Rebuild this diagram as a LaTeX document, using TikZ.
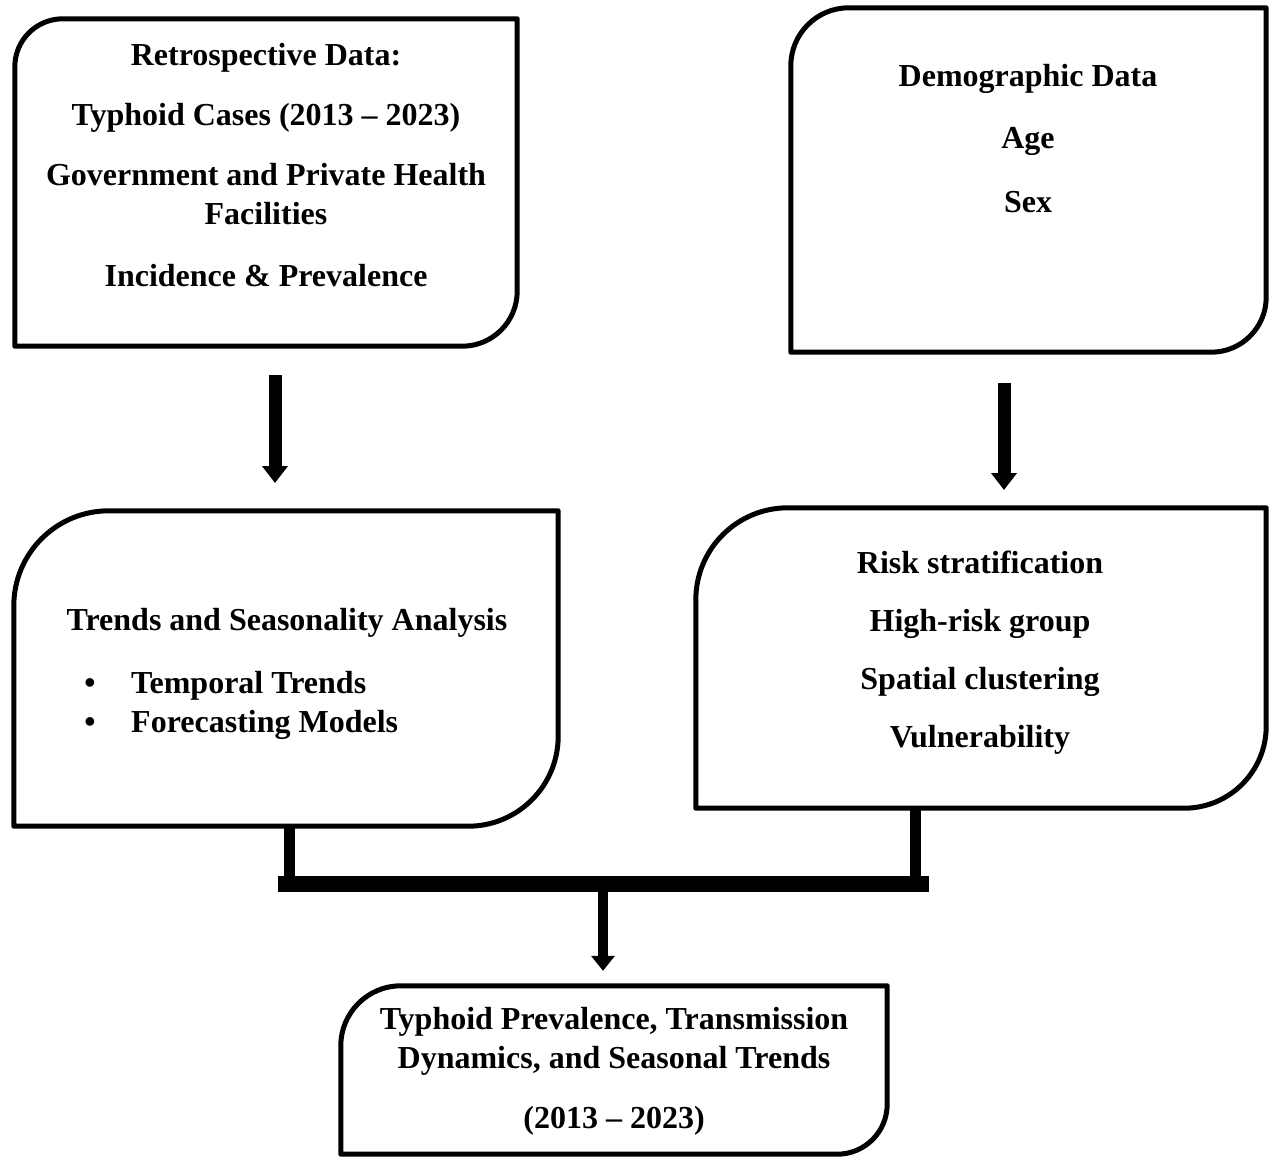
\documentclass[tikz,border=0pt]{standalone}
\usepackage{fontspec}
\setmainfont{Liberation Serif}
\usetikzlibrary{arrows.meta,calc}
\newcommand\shapebox[3]{%
  \draw[boxline] (#1.south west) -- ([yshift=-#2pt]#1.north west)
    arc[start angle=180,end angle=90,radius=#2] -- (#1.north east)
    -- ([yshift=#3pt]#1.south east)
    arc[start angle=0,end angle=-90,radius=#3] -- cycle;}
\begin{document}
\begin{tikzpicture}[x=1pt,y=1pt,
  boxline/.style={line width=5pt, line join=round},
  area/.style={draw=none, inner sep=0pt, rectangle},
  txt/.style={font=\fontsize{32}{38}\selectfont\bfseries, inner sep=0pt, anchor=base},
  bigarrow/.style={line width=13pt, -{Triangle[width=25pt,length=17pt]}},
  smallarrow/.style={line width=10pt, -{Triangle[width=23pt,length=15pt]}},
  conn/.style={line width=11pt},
  barline/.style={line width=16pt}]

\useasboundingbox (0,0) rectangle (1273,-1158);

% box areas
\node[area, minimum width=502pt, minimum height=327pt] (A) at (266,-182.5) {};
\node[area, minimum width=475pt, minimum height=344pt] (B) at (1028.5,-180) {};
\node[area, minimum width=544pt, minimum height=315pt] (C) at (286,-668.5) {};
\node[area, minimum width=570pt, minimum height=300pt] (D) at (981,-658) {};
\node[area, minimum width=546pt, minimum height=168pt] (E) at (614,-1070) {};

\shapebox{A}{48}{55}
\shapebox{B}{58}{55}
\shapebox{C}{95}{90}
\shapebox{D}{92}{82}
\shapebox{E}{60}{50}

% texts box A
\node[txt] (a1) at (266,-66) {Retrospective Data:};
\node[txt] (a2) at (266,-126) {Typhoid Cases (2013 – 2023)};
\node[txt] (a3) at (266,-186) {Government and Private Health};
\node[txt] (a4) at (266,-225) {Facilities};
\node[txt] (a5) at (266,-286) {Incidence \& Prevalence};

% texts box B
\node[txt] (b1) at (1028,-87) {Demographic Data};
\node[txt] (b2) at (1028,-149) {Age};
\node[txt] (b3) at (1028,-213) {Sex};

% texts box C
\node[txt] (c1) at (287,-630) {Trends and Seasonality Analysis};
\node[txt] (c2b) at (90,-693) {•};
\node[txt, anchor=base west] (c2) at (131,-693) {Temporal Trends};
\node[txt] (c3b) at (90,-732) {•};
\node[txt, anchor=base west] (c3) at (131,-732) {Forecasting Models};

% texts box D
\node[txt] (d1) at (980,-573) {Risk stratification};
\node[txt] (d2) at (980,-631) {High-risk group};
\node[txt] (d3) at (980,-689) {Spatial clustering};
\node[txt] (d4) at (980,-747) {Vulnerability};

% texts box E
\node[txt] (e1) at (614,-1029) {Typhoid Prevalence, Transmission};
\node[txt] (e2) at (614,-1068) {Dynamics, and Seasonal Trends};
\node[txt] (e3) at (614,-1128) {(2013 – 2023)};

% arrows between rows
\coordinate (a1s) at (275,-375);
\coordinate (a1e) at (275,-483);
\draw[bigarrow] (a1s) -- (a1e);
\coordinate (a2s) at (1004,-383);
\coordinate (a2e) at (1004,-490);
\draw[bigarrow] (a2s) -- (a2e);

% merge connector
\coordinate (jc) at (289.5,-884);
\coordinate (jd) at (915.5,-884);
\coordinate (jm) at (603,-884);
\coordinate (barL) at (278,-884);
\coordinate (barR) at (929,-884);
\draw[conn] (C.south -| jc) -- (jc);
\draw[conn] (D.south -| jd) -- (jd);
\draw[barline] (barL) -- (barR);
\draw[smallarrow] (jm) -- ($(E.north -| jm)+(0,15)$);
\end{tikzpicture}
\end{document}
